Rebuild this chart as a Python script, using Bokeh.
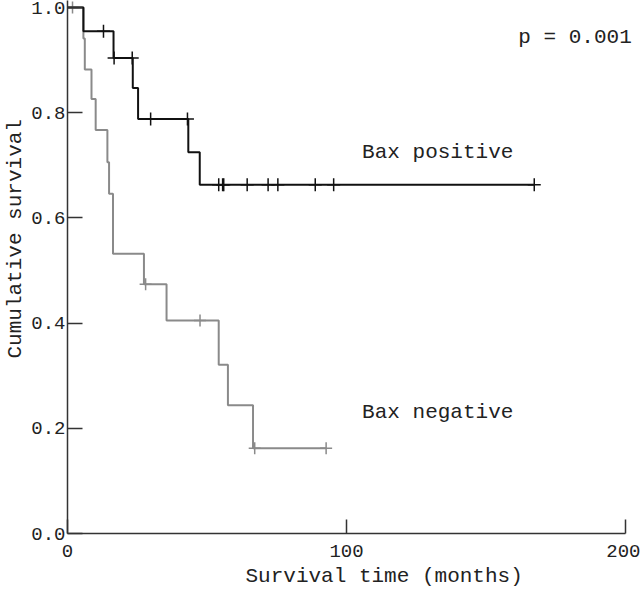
from bokeh.plotting import figure
from bokeh.models import FixedTicker, PrintfTickFormatter, Label, Range1d, Title
from bokeh.embed import file_html
from bokeh.resources import INLINE

# ---- data ----
pos_event_times = [5.7, 16.5, 23.4, 25.3, 43.3, 47.4]
pos_survival = [0.955, 0.904, 0.847, 0.788, 0.725, 0.663]
pos_censor_times = [12.9, 16.7, 23.2, 29.8, 43.0, 54.2, 55.6, 56.0, 64.4,
                    71.9, 75.4, 88.8, 95.4, 167.3]

neg_event_times = [5.7, 6.2, 8.6, 10.1, 14.3, 14.9, 16.3, 27.4, 35.5, 54.2, 57.5, 66.5]
neg_survival = [0.941, 0.882, 0.826, 0.767, 0.706, 0.646, 0.532, 0.474, 0.405,
                0.321, 0.244, 0.162]
neg_censor_times = [1.8, 28.0, 47.5, 67.1, 92.7]

x_ticks = [0, 100, 200]
y_ticks = [0.0, 0.2, 0.4, 0.6, 0.8, 1.0]
p_text = "p = 0.001"
pos_name = "Bax positive"
neg_name = "Bax negative"
x_title = "Survival time (months)"
y_title = "Cumulative survival"

FONT = "Liberation Mono"


def km_curve(times, surv, censors):
    end = max(max(times), max(censors))
    xs = [0.0] + list(times) + [end]
    ys = [1.0] + list(surv) + [surv[-1]]

    def s_at(t):
        v = 1.0
        for tt, ss in zip(times, surv):
            if tt <= t:
                v = ss
        return v

    cy = [s_at(t) for t in censors]
    return xs, ys, cy


p = figure(width=640, height=590, output_backend="svg", toolbar_location=None,
           x_range=Range1d(0, 205.38), y_range=Range1d(0, 1.0133),
           min_border_left=67, min_border_right=0, min_border_top=0,
           min_border_bottom=57)
p.outline_line_color = None
p.xgrid.visible = False
p.ygrid.visible = False
p.background_fill_color = "white"
p.border_fill_color = "white"

GREY = "#8a8a8a"
BLACK = "#111111"

nx, ny, ncy = km_curve(neg_event_times, neg_survival, neg_censor_times)
p.step(nx, ny, mode="after", line_color=GREY, line_width=2)
p.scatter(neg_censor_times, ncy, marker="cross", size=12, line_color=GREY, line_width=1.5)

px_, py_, pcy = km_curve(pos_event_times, pos_survival, pos_censor_times)
p.step(px_, py_, mode="after", line_color=BLACK, line_width=2)
p.scatter(pos_censor_times, pcy, marker="cross", size=13, line_color=BLACK, line_width=1.5)

for ax in (p.xaxis[0], p.yaxis[0]):
    ax.axis_line_color = "#333333"
    ax.axis_line_width = 1.5
    ax.major_tick_line_color = "#333333"
    ax.major_tick_line_width = 1.5
    ax.major_tick_out = 0
    ax.minor_tick_line_color = None
    ax.major_label_text_font = FONT
    ax.major_label_text_font_size = "19px"
    ax.major_label_text_color = "#222222"

p.xaxis.ticker = FixedTicker(ticks=x_ticks)
p.xaxis.bounds = (x_ticks[0], x_ticks[-1])
p.xaxis.major_tick_in = 14
p.xaxis.major_label_standoff = 11
p.yaxis.ticker = FixedTicker(ticks=y_ticks)
p.yaxis.formatter = PrintfTickFormatter(format="%.1f")
p.yaxis.major_tick_in = 15
p.yaxis.major_label_standoff = 2

# axis titles as side-panel titles, offset like the reference
p.add_layout(Title(text=x_title, align="left", offset=178, standoff=6,
                   text_font=FONT, text_font_size="21px", text_font_style="normal",
                   text_color="#222222"), "below")
p.add_layout(Title(text=y_title, align="left", offset=175, standoff=3,
                   text_font=FONT, text_font_size="21px", text_font_style="normal",
                   text_color="#222222"), "left")


def add_label(text, x, y, align="left", angle=0.0):
    p.add_layout(Label(x=x, y=y, text=text, text_font=FONT, text_font_size="21px",
                       text_color="#222222", text_align=align, text_baseline="alphabetic",
                       angle=angle))

add_label(p_text, 161.6, 0.943)
add_label(pos_name, 105.6, 0.725)
add_label(neg_name, 105.6, 0.230)

open("out.html", "w").write(file_html(p, INLINE))
